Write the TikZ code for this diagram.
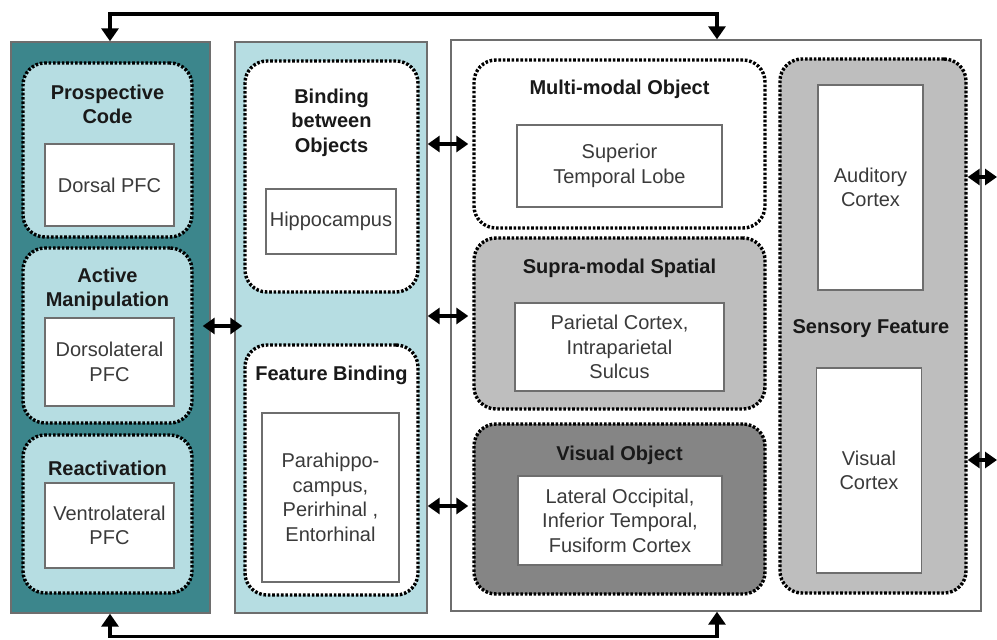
\documentclass[tikz,border=0pt]{standalone}
\usepackage{fontspec}
\setmainfont{Liberation Sans}
\usetikzlibrary{arrows.meta}
\definecolor{tealdk}{HTML}{3C868C}
\definecolor{cyanlt}{HTML}{B6DDE2}
\definecolor{greymd}{HTML}{BEBEBE}
\definecolor{greydk}{HTML}{858585}
\definecolor{edgegrey}{HTML}{6E6E6E}
\definecolor{inktext}{HTML}{3A3A3A}

\begin{document}
\begin{tikzpicture}[x=1pt,y=-1pt,
  panel/.style={draw=edgegrey, line width=1.4pt, inner sep=0pt, rectangle},
  group/.style={draw=black, line width=3.4pt, dash pattern=on 2.6pt off 1.8pt,
    rounded corners=22pt, inner sep=0pt, rectangle},
  area/.style={draw=edgegrey, fill=white, line width=1.4pt, inner sep=0pt,
    align=center, text=inktext, font=\fontsize{20}{24.5}\selectfont},
  heading/.style={inner sep=0pt, align=center, text=black!90,
    font=\fontsize{20}{24.5}\selectfont\bfseries},
  trunk/.style={line width=3.6pt, line join=miter,
    {Triangle[length=13pt,width=17pt]}-{Triangle[length=13pt,width=17pt]}},
  twoway/.style={line width=4.2pt,
    {Triangle[length=12pt,width=16pt]}-{Triangle[length=12pt,width=16pt]}}
]
\useasboundingbox (0,0) rectangle (997,640);

% three main panels
\node[panel, fill=tealdk, minimum width=199pt, minimum height=571pt] (L) at (110.5,327.5) {};
\node[panel, fill=cyanlt, minimum width=192pt, minimum height=571pt] (M) at (331,327.5) {};
\node[panel, fill=white, minimum width=530pt, minimum height=571pt] (R) at (716,325.5) {};

% prefrontal groups
\node[group, fill=cyanlt, minimum width=169pt, minimum height=174pt] (PC) at (107.5,150) {};
\node[group, fill=cyanlt, minimum width=169pt, minimum height=175pt] (AM) at (107.5,335.5) {};
\node[group, fill=cyanlt, minimum width=169pt, minimum height=158pt] (RE) at (107.5,514) {};
\node[heading] (pcT) at (107.5,104.5) {Prospective\\Code};
\node[heading] (amT) at (107.5,289.5) {Active\\Manipulation};
\node[heading] (reT) at (107.5,468) {Reactivation};
\node[area, minimum width=129pt, minimum height=82pt] (dPFC) at (109.5,185) {Dorsal PFC};
\node[area, minimum width=129pt, minimum height=88pt] (dlPFC) at (109.5,362) {Dorsolateral\\PFC};
\node[area, minimum width=129pt, minimum height=85pt] (vlPFC) at (109.5,525.5) {Ventrolateral\\PFC};

% medial temporal groups
\node[group, fill=white, minimum width=173pt, minimum height=231pt] (BO) at (331.5,176.5) {};
\node[group, fill=white, minimum width=173pt, minimum height=250pt] (FB) at (331.5,470) {};
\node[heading] (boT) at (331.5,122.5) {Binding\\between\\Objects};
\node[heading] (fbT) at (331.5,375) {Feature Binding};
\node[area, minimum width=130pt, minimum height=65pt] (hip) at (331,221.5) {Hippocampus};
\node[area, minimum width=137pt, minimum height=169pt] (para) at (330.5,497.5)
  {Parahippo-\\campus,\\Perirhinal ,\\Entorhinal};

% posterior groups
\node[group, fill=white, minimum width=291pt, minimum height=168pt] (MO) at (619.5,144) {};
\node[group, fill=greymd, minimum width=291pt, minimum height=171pt] (SS) at (619.5,323.5) {};
\node[group, fill=greydk, minimum width=291pt, minimum height=170pt] (VO) at (619.5,509) {};
\node[group, fill=greymd, minimum width=186pt, minimum height=534pt] (SF) at (873,326) {};
\node[heading] (moT) at (619.5,89) {Multi-modal Object};
\node[heading] (ssT) at (619.5,268) {Supra-modal Spatial};
\node[heading] (voT) at (619.5,455) {Visual Object};
\node[heading] (sfT) at (871,329) {Sensory Feature};
\node[area, minimum width=205pt, minimum height=82pt] (stl) at (619.5,166) {Superior\\Temporal Lobe};
\node[area, minimum width=209pt, minimum height=88pt] (par) at (619.5,347)
  {Parietal Cortex,\\Intraparietal\\Sulcus};
\node[area, minimum width=204pt, minimum height=89pt] (loc) at (620,520.5)
  {Lateral Occipital,\\Inferior Temporal,\\Fusiform Cortex};
\node[area, minimum width=105pt, minimum height=205pt] (aud) at (870.5,187.5) {Auditory\\Cortex};
\node[area, minimum width=105pt, minimum height=205pt] (vis) at (869,470.5) {Visual\\Cortex};

% feedback loops over the top and along the bottom
\coordinate (topL) at (110,14);
\coordinate (topR) at (717,14);
\coordinate (botL) at (110,636.5);
\coordinate (botR) at (717,636.5);
\draw[trunk] (L.north -| topL) -- (topL) -- (topR) -- (R.north -| topR);
\draw[trunk] (L.south -| botL) -- (botL) -- (botR) -- (R.south -| botR);

% two-way links between panels
\coordinate (lmy) at (0,326);
\coordinate (ssy) at (0,316);
\coordinate (voy) at (0,506);
\draw[twoway, shorten <=-8pt, shorten >=-8pt] (L.east |- lmy) -- (M.west |- lmy);
\draw[twoway, shorten >=4pt] (M.east |- MO.west) -- (MO.west);
\draw[twoway, shorten >=4pt] (M.east |- ssy) -- (SS.west |- ssy);
\draw[twoway, shorten >=4pt] (M.east |- voy) -- (VO.west |- voy);

% outgoing links from sensory cortices
\coordinate (outA) at (997,177);
\coordinate (outV) at (997,460);
\draw[twoway] (SF.east |- outA) -- (outA);
\draw[twoway] (SF.east |- outV) -- (outV);
\end{tikzpicture}
\end{document}
